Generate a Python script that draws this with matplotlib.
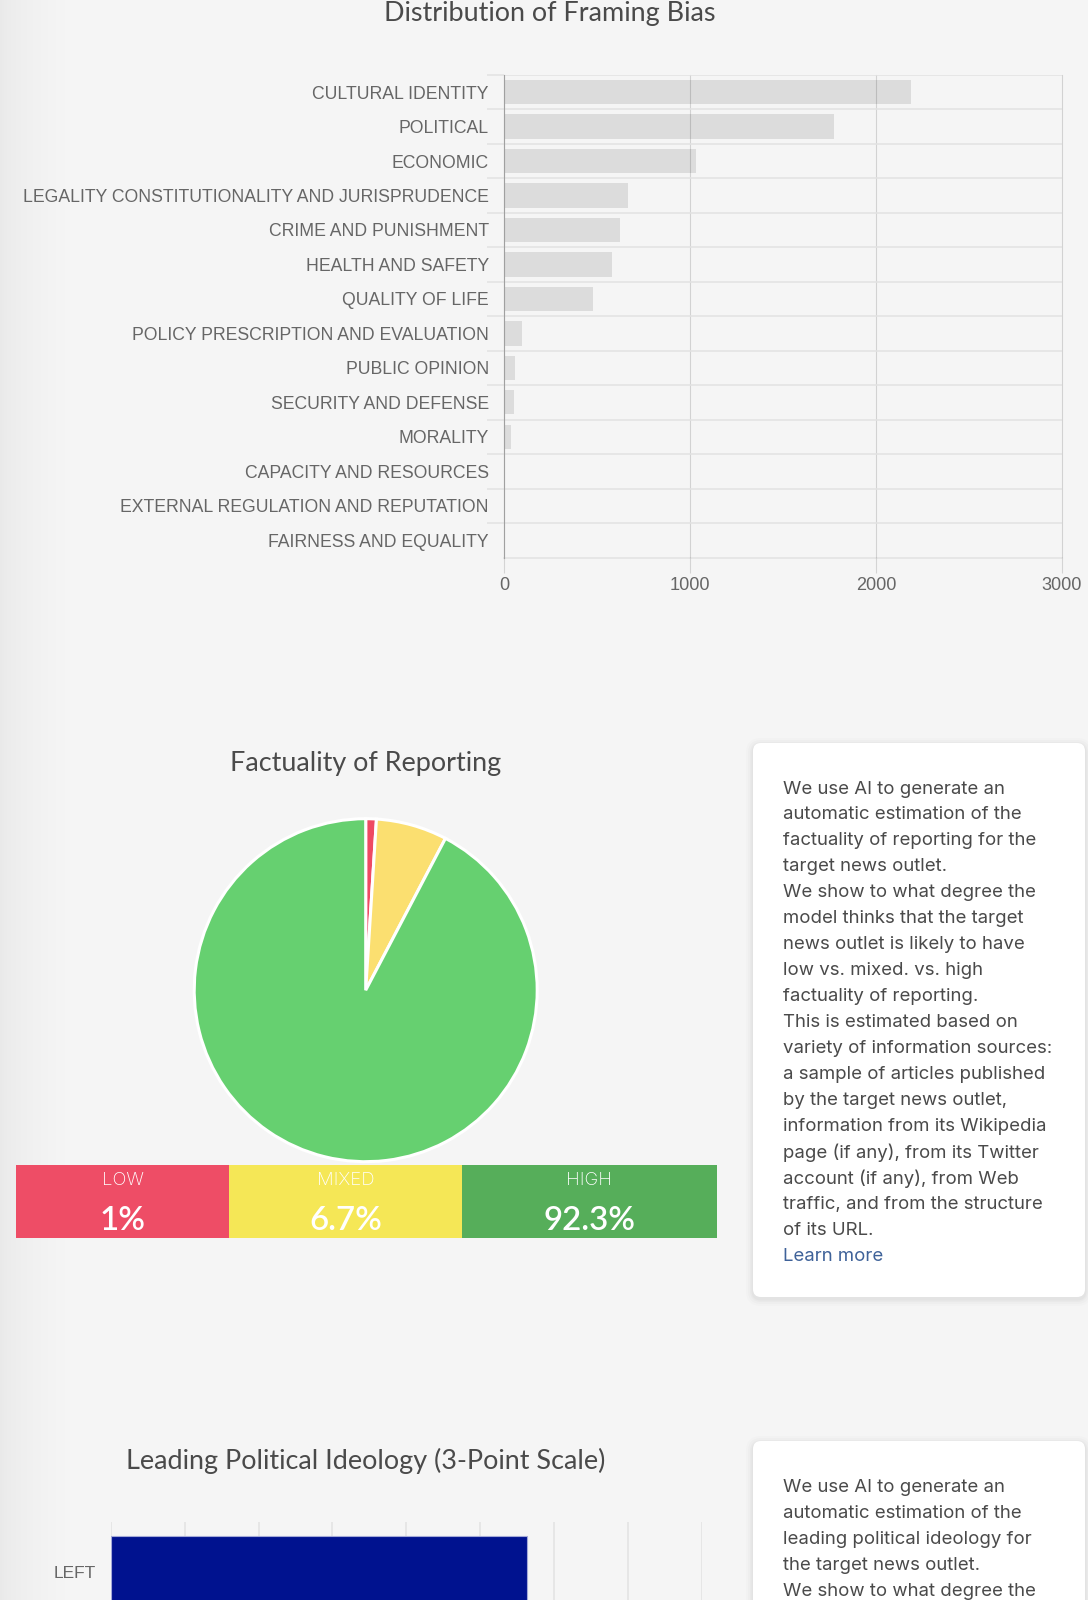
import numpy as np
import matplotlib
matplotlib.use("Agg")
import matplotlib.pyplot as plt
from matplotlib.patches import FancyBboxPatch, Rectangle

# ---- data ----
frame_labels = ["CULTURAL IDENTITY", "POLITICAL", "ECONOMIC",
                "LEGALITY CONSTITUTIONALITY AND JURISPRUDENCE", "CRIME AND PUNISHMENT",
                "HEALTH AND SAFETY", "QUALITY OF LIFE", "POLICY PRESCRIPTION AND EVALUATION",
                "PUBLIC OPINION", "SECURITY AND DEFENSE", "MORALITY",
                "CAPACITY AND RESOURCES", "EXTERNAL REGULATION AND REPUTATION",
                "FAIRNESS AND EQUALITY"]
frame_values = [2190, 1775, 1030, 665, 625, 580, 480, 95, 60, 55, 35, 0, 0, 0]
frame_ticks = [0, 1000, 2000, 3000]

fact_labels = ["LOW", "MIXED", "HIGH"]
fact_values = [1.0, 6.7, 92.3]
fact_text = ["1%", "6.7%", "92.3%"]

ideology_labels = ["LEFT"]
ideology_values = [56.3]
ideology_ticks = [0, 10, 20, 30, 40, 50, 60, 70, 80]

card1_lines = ["We use AI to generate an", "automatic estimation of the",
               "factuality of reporting for the", "target news outlet.",
               "We show to what degree the", "model thinks that the target",
               "news outlet is likely to have", "low vs. mixed. vs. high",
               "factuality of reporting.", "This is estimated based on",
               "variety of information sources:", "a sample of articles published",
               "by the target news outlet,", "information from its Wikipedia",
               "page (if any), from its Twitter", "account (if any), from Web",
               "traffic, and from the structure", "of its URL."]
card1_link = "Learn more"
card2_lines = ["We use AI to generate an", "automatic estimation of the",
               "leading political ideology for", "the target news outlet.",
               "We show to what degree the"]

W, H = 1088, 1600
BG = "#f5f5f5"
TITLE = "Lato"
LABEL = "Liberation Sans"
BODY = "Inter"
pt = lambda px: px * 72 / 100

fig = plt.figure(figsize=(W / 100, H / 100), dpi=100, facecolor=BG)

def axes_px(x0, y0, x1, y1, **kw):
    return fig.add_axes([x0 / W, 1 - y1 / H, (x1 - x0) / W, (y1 - y0) / H], **kw)

# page overlay in pixel coordinates
page = axes_px(0, 0, W, H, zorder=0)
page.set_xlim(0, W); page.set_ylim(H, 0); page.axis("off")

# left shadow of the page
grad = np.linspace(0, 1, 66)[None, :] ** 0.6
page.imshow(grad, extent=(0, 66, H, 0),
            cmap=matplotlib.colors.LinearSegmentedColormap.from_list("s", ["#e9e9e9", BG]),
            aspect="auto", zorder=0)
page.set_xlim(0, W); page.set_ylim(H, 0)

def title(s, x, y):
    page.text(x, y, s, family=TITLE, fontsize=pt(27), color="#4a4a4a", ha="center", va="center")

title("Distribution of Framing Bias", 550, 13)
title("Factuality of Reporting", 366, 763)
title("Leading Political Ideology (3-Point Scale)", 366, 1461)

# ---- framing bar chart ----
ax = axes_px(504, 74.8, 1062, 557.6, zorder=2)
ax.set_facecolor("none")
y = np.arange(len(frame_labels))
ax.barh(y, frame_values, left=0, height=0.7, color="#dcdcdc", zorder=1)
ax.set_xlim(frame_ticks[0], frame_ticks[-1])
ax.set_ylim(len(frame_labels) - 0.5, -0.5)
ax.set_xticks(frame_ticks)
ax.set_yticks(y, frame_labels)
ax.set_yticks(np.arange(-0.5, len(frame_labels) - 1), minor=True)
ax.grid(True, axis="x", color="#000000", alpha=0.14, lw=0.8, zorder=3, clip_on=False)
ax.grid(True, axis="y", which="minor", color="#e2e2e2", lw=1.1, zorder=0)
ax.grid(False, axis="y", which="major")
ax.axhline(len(frame_labels) - 0.5, color="#e2e2e2", lw=1.1, zorder=0, clip_on=False)
ax.tick_params(axis="y", which="major", length=0, pad=pt(15), labelsize=pt(17.6), labelcolor="#666666")
ax.tick_params(axis="y", which="minor", length=pt(17), width=1.1, color="#e2e2e2")
ax.tick_params(axis="x", length=pt(15), width=0.8, color="#d4d4d4", pad=pt(4), labelsize=pt(18.2), labelcolor="#666666")
for t in ax.get_xticklabels() + ax.get_yticklabels():
    t.set_family(LABEL)
for s in ["top", "right", "bottom"]:
    ax.spines[s].set_visible(False)
ax.spines["left"].set_color("#a0a0a0")
ax.spines["left"].set_linewidth(0.8)
ax.spines["left"].set_bounds(len(frame_labels) - 0.5, -0.5)
ax.xaxis.get_major_ticks()[0].tick1line.set_color("#a0a0a0")

# ---- factuality pie ----
pie = axes_px(365.7 - 174, 990.2 - 174, 365.7 + 174, 990.2 + 174, zorder=2)
pie.pie(fact_values, colors=["#ee4a63", "#fbdf70", "#66d070"], startangle=90, counterclock=False,
        radius=1.0, wedgeprops=dict(edgecolor="white", linewidth=2.2))
pie.set_xlim(-174 / 171.5, 174 / 171.5); pie.set_ylim(-174 / 171.5, 174 / 171.5)

# ---- factuality legend strip ----
seg_edges = [16, 229, 462, 717]
seg_colors = ["#ee4d66", "#f5e756", "#56ae5a"]
for i, (lab, txt, c) in enumerate(zip(fact_labels, fact_text, seg_colors)):
    x0, x1 = seg_edges[i], seg_edges[i + 1]
    page.add_patch(Rectangle((x0, 1165), x1 - x0, 73, color=c, lw=0, zorder=3))
    xc = (x0 + x1) / 2
    page.text(xc, 1180.5, lab, family=BODY, fontsize=pt(18.5), weight="light", color="white",
              ha="center", va="center", zorder=4)
    page.text(xc, 1221, txt, family=TITLE, fontsize=pt(33), color="white", weight="semibold",
              ha="center", va="center", zorder=4)

# ---- cards ----
def card(x0, y0, x1, y1):
    for g, a in [(7, 0.012), (5, 0.015), (3, 0.02), (1.5, 0.025)]:
        page.add_patch(FancyBboxPatch((x0 - g, y0 - g + 2), x1 - x0 + 2 * g, y1 - y0 + 2 * g,
                                      boxstyle=f"round,pad=0,rounding_size={8 + g}", fc="black", ec="none",
                                      alpha=a, zorder=1))
    page.add_patch(FancyBboxPatch((x0, y0), x1 - x0, y1 - y0, boxstyle="round,pad=0,rounding_size=8",
                                  fc="white", ec="none", zorder=2))

card(753, 743, 1085, 1297)
card(753, 1441, 1085, 1720)

def body(lines, y0):
    for i, s in enumerate(lines):
        page.text(783, y0 + i * 25.97, s, family=BODY, fontsize=pt(18.6), color="#4a4a4a",
                  ha="left", va="center", zorder=3)

body(card1_lines, 789)
page.text(783, 789 + 18 * 25.97, card1_link, family=BODY, fontsize=pt(18.6), color="#3f6299",
          ha="left", va="center", zorder=3)
body(card2_lines, 1487.5)

# ---- ideology chart (cut by the page) ----
iax = axes_px(111, 1522, 701.6, 1522 + 300, zorder=2)
iax.set_facecolor("none")
iax.barh([0], ideology_values, height=1.0, color="#00128f", edgecolor="#a4aad8", lw=0.8, zorder=2)
iax.set_xlim(ideology_ticks[0], ideology_ticks[-1])
iax.set_ylim(300 / 73 - 0.69, -0.69)
iax.set_xticks(ideology_ticks)
iax.set_yticks([0], ideology_labels)
iax.xaxis.tick_top()
iax.grid(True, axis="x", color="#e2e2e2", lw=1.1, zorder=1)
iax.tick_params(axis="x", length=0, labeltop=False)
iax.tick_params(axis="y", length=0, pad=pt(15), labelsize=pt(17.4), labelcolor="#666666")
for t in iax.get_yticklabels():
    t.set_family(LABEL)
for s in iax.spines.values():
    s.set_visible(False)

fig.savefig("out.png", dpi=100, facecolor=BG)
